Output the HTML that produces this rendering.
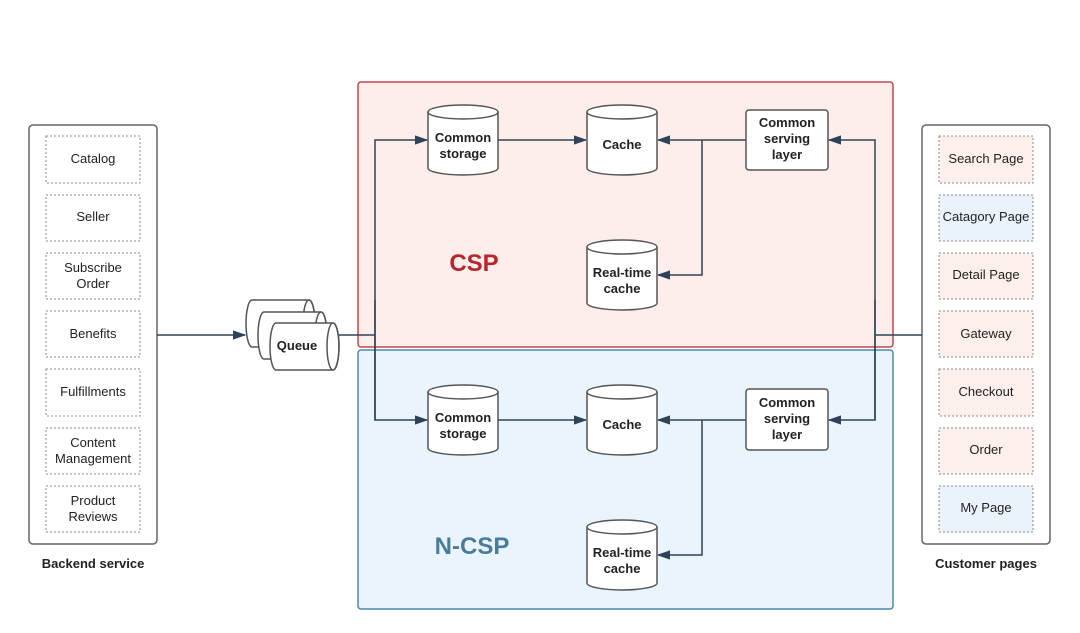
<!DOCTYPE html>
<html><head><style>
html,body{margin:0;padding:0;background:#fff;}
svg{display:block;}
text{font-family:"Liberation Sans",Arial,sans-serif;fill:#222;}
.b{font-weight:bold;}
</style></head><body>
<svg width="1080" height="633" viewBox="0 0 1080 633" xmlns="http://www.w3.org/2000/svg">
<defs>
<marker id="a" viewBox="0 0 10 10" refX="9" refY="5" markerWidth="9" markerHeight="9" orient="auto"><path d="M0,1.5 L10,5 L0,8.5 z" fill="#2e4357"/></marker>
<g id="cyl">
<path d="M0,7 L0,63 A35,7 0 0 0 70,63 L70,7" fill="#fff" stroke="#555" stroke-width="1.5"/>
<ellipse cx="35" cy="7" rx="35" ry="7" fill="#fff" stroke="#555" stroke-width="1.5"/>
</g>
<g id="hcyl">
<path d="M6,0 L63,0 A6,23.5 0 0 1 63,47 L6,47 A6,23.5 0 0 1 6,0 z" fill="#fff" stroke="#555" stroke-width="1.5"/>
<ellipse cx="63" cy="23.5" rx="6" ry="23.5" fill="none" stroke="#555" stroke-width="1.5"/>
</g>
</defs>

<!-- regions -->
<rect x="358" y="82" width="535" height="265" rx="3" fill="#fdeeec" stroke="#c4474d" stroke-width="1.5"/>
<rect x="358" y="350" width="535" height="259" rx="3" fill="#eaf4fc" stroke="#4a8aa8" stroke-width="1.5"/>
<text x="474" y="271" text-anchor="middle" class="b" font-size="24" style="fill:#b8262c">CSP</text>
<text x="472" y="554" text-anchor="middle" class="b" font-size="24" style="fill:#4a7c9c">N-CSP</text>

<!-- backend -->
<rect x="29" y="125" width="128" height="419" rx="4" fill="#fff" stroke="#666" stroke-width="1.5"/>
<g fill="#fff" stroke="#888" stroke-width="1" stroke-dasharray="2,2">
<rect x="46" y="136" width="94" height="47"/><rect x="46" y="195" width="94" height="46"/>
<rect x="46" y="253" width="94" height="46"/><rect x="46" y="311" width="94" height="46"/>
<rect x="46" y="369" width="94" height="47"/><rect x="46" y="428" width="94" height="46"/>
<rect x="46" y="486" width="94" height="46"/>
</g>
<g font-size="13" text-anchor="middle">
<text x="93" y="163">Catalog</text><text x="93" y="221">Seller</text>
<text x="93" y="272">Subscribe</text><text x="93" y="288">Order</text>
<text x="93" y="338">Benefits</text><text x="93" y="396">Fulfillments</text>
<text x="93" y="447">Content</text><text x="93" y="463">Management</text>
<text x="93" y="505">Product</text><text x="93" y="521">Reviews</text>
</g>
<text x="93" y="568" text-anchor="middle" class="b" font-size="13">Backend service</text>

<!-- customer -->
<rect x="922" y="125" width="128" height="419" rx="4" fill="#fff" stroke="#666" stroke-width="1.5"/>
<g stroke="#888" stroke-width="1" stroke-dasharray="2,2">
<rect x="939" y="136" width="94" height="47" fill="#fdf0ec"/><rect x="939" y="195" width="94" height="46" fill="#eaf3fc"/>
<rect x="939" y="253" width="94" height="46" fill="#fdf0ec"/><rect x="939" y="311" width="94" height="46" fill="#fdf0ec"/>
<rect x="939" y="369" width="94" height="47" fill="#fdf0ec"/><rect x="939" y="428" width="94" height="46" fill="#fdf0ec"/>
<rect x="939" y="486" width="94" height="46" fill="#eaf3fc"/>
</g>
<g font-size="13" text-anchor="middle">
<text x="986" y="163">Search Page</text><text x="986" y="221">Catagory Page</text>
<text x="986" y="279">Detail Page</text><text x="986" y="338">Gateway</text>
<text x="986" y="396">Checkout</text><text x="986" y="454">Order</text>
<text x="986" y="512">My Page</text>
</g>
<text x="986" y="568" text-anchor="middle" class="b" font-size="13">Customer pages</text>

<!-- connectors -->
<g fill="none" stroke="#2e4357" stroke-width="1.5">
<line x1="157" y1="335" x2="245" y2="335" marker-end="url(#a)"/>
<path d="M339,335 L375,335"/>
<path d="M375,420 L375,140 L427,140" marker-end="url(#a)"/>
<path d="M375,300 L375,420 L427,420" marker-end="url(#a)"/>
<line x1="498" y1="140" x2="586" y2="140" marker-end="url(#a)"/>
<line x1="498" y1="420" x2="586" y2="420" marker-end="url(#a)"/>
<line x1="746" y1="140" x2="658" y2="140" marker-end="url(#a)"/>
<line x1="746" y1="420" x2="658" y2="420" marker-end="url(#a)"/>
<path d="M702,140 L702,275 L658,275" marker-end="url(#a)"/>
<path d="M702,420 L702,555 L658,555" marker-end="url(#a)"/>
<path d="M922,335 L875,335"/>
<path d="M875,420 L875,140 L829,140" marker-end="url(#a)"/>
<path d="M875,300 L875,420 L829,420" marker-end="url(#a)"/>
</g>

<!-- queue -->
<use href="#hcyl" x="246" y="300"/>
<use href="#hcyl" x="258" y="312"/>
<use href="#hcyl" x="270" y="323"/>
<text x="297" y="350" text-anchor="middle" class="b" font-size="13">Queue</text>

<!-- CSP nodes -->
<use href="#cyl" x="428" y="105"/>
<text x="463" y="142" text-anchor="middle" class="b" font-size="13">Common</text>
<text x="463" y="158" text-anchor="middle" class="b" font-size="13">storage</text>
<use href="#cyl" x="587" y="105"/>
<text x="622" y="149" text-anchor="middle" class="b" font-size="13">Cache</text>
<use href="#cyl" x="587" y="240"/>
<text x="622" y="277" text-anchor="middle" class="b" font-size="13">Real-time</text>
<text x="622" y="293" text-anchor="middle" class="b" font-size="13">cache</text>
<rect x="746" y="110" width="82" height="60" rx="3" fill="#fff" stroke="#555" stroke-width="1.5"/>
<text x="787" y="127" text-anchor="middle" class="b" font-size="13">Common</text>
<text x="787" y="143" text-anchor="middle" class="b" font-size="13">serving</text>
<text x="787" y="159" text-anchor="middle" class="b" font-size="13">layer</text>

<!-- N-CSP nodes -->
<use href="#cyl" x="428" y="385"/>
<text x="463" y="422" text-anchor="middle" class="b" font-size="13">Common</text>
<text x="463" y="438" text-anchor="middle" class="b" font-size="13">storage</text>
<use href="#cyl" x="587" y="385"/>
<text x="622" y="429" text-anchor="middle" class="b" font-size="13">Cache</text>
<use href="#cyl" x="587" y="520"/>
<text x="622" y="557" text-anchor="middle" class="b" font-size="13">Real-time</text>
<text x="622" y="573" text-anchor="middle" class="b" font-size="13">cache</text>
<rect x="746" y="389" width="82" height="61" rx="3" fill="#fff" stroke="#555" stroke-width="1.5"/>
<text x="787" y="407" text-anchor="middle" class="b" font-size="13">Common</text>
<text x="787" y="423" text-anchor="middle" class="b" font-size="13">serving</text>
<text x="787" y="439" text-anchor="middle" class="b" font-size="13">layer</text>
</svg>
</body></html>
